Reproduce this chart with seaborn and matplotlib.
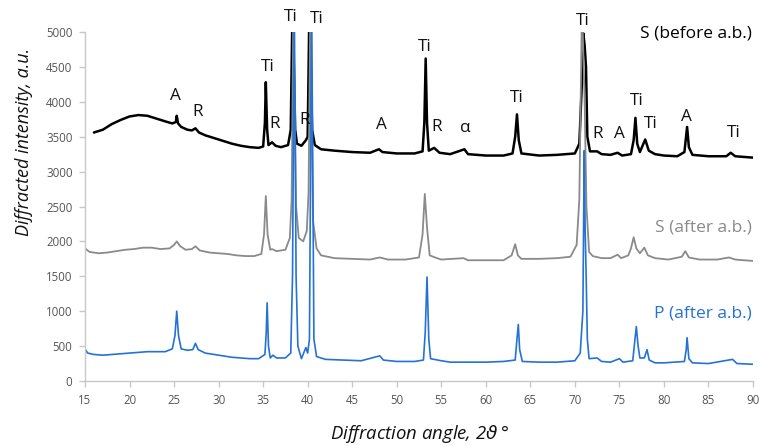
import matplotlib
matplotlib.use("Agg")
import matplotlib.pyplot as plt
import seaborn as sns
import pandas as pd

# --- XRD patterns (2-theta in degrees, intensity in a.u.) ---
before_angle = [16.0, 16.5, 17.0, 18.0, 19.0, 20.0, 21.0, 22.0, 23.0, 24.0, 24.8, 25.2, 25.3, 25.45,
                25.8, 26.5, 27.0, 27.4, 27.8, 28.5, 29.5, 30.5, 31.5, 32.5, 33.5, 34.5, 35.0, 35.2,
                35.3, 35.45, 35.6, 36.0, 36.4, 37.0, 37.8, 38.1, 38.3, 38.6, 38.8, 39.3, 39.8, 40.0,
                40.2, 40.5, 40.8, 41.5, 43.0, 45.0, 47.0, 48.0, 48.4, 50.0, 52.0, 52.9, 53.1, 53.25,
                53.4, 53.6, 54.2, 54.8, 56.0, 57.6, 58.0, 60.0, 62.0, 63.0, 63.3, 63.5, 63.7, 64.0,
                66.0, 68.0, 70.0, 70.5, 70.8, 70.95, 71.1, 71.25, 71.4, 71.7, 72.5, 73.0, 74.0, 74.8,
                75.3, 76.3, 76.6, 76.8, 77.0, 77.3, 77.9, 78.3, 79.0, 80.0, 81.5, 82.3, 82.6, 82.8,
                83.2, 85.0, 87.0, 87.5, 88.0, 89.0, 90.0]
before_int = [3560, 3580, 3600, 3680, 3740, 3790, 3810, 3800, 3760, 3720, 3690, 3710, 3800, 3690,
              3640, 3600, 3590, 3620, 3560, 3520, 3480, 3440, 3400, 3370, 3350, 3340, 3360, 3700,
              4280, 3600, 3380, 3420, 3370, 3350, 3380, 3600, 5400, 3600, 3400, 3370, 3450, 3500,
              5400, 3600, 3380, 3320, 3300, 3280, 3270, 3320, 3280, 3260, 3260, 3290, 3700, 4620,
              3700, 3300, 3340, 3270, 3250, 3320, 3250, 3230, 3230, 3260, 3500, 3820, 3450, 3260,
              3230, 3240, 3260, 3400, 4300, 4980, 4800, 4500, 3500, 3290, 3290, 3250, 3240, 3270,
              3230, 3250, 3450, 3770, 3400, 3280, 3460, 3300, 3250, 3230, 3220, 3280, 3640, 3350,
              3240, 3220, 3220, 3270, 3220, 3210, 3200]

after_s_angle = [15.0, 15.5, 16.5, 17.5, 18.5, 19.5, 20.5, 21.5, 22.5, 23.5, 24.5, 25.0, 25.3, 25.7,
                 26.3, 27.0, 27.4, 27.9, 29.0, 30.0, 31.0, 32.0, 33.0, 34.0, 34.8, 35.1, 35.3, 35.5,
                 35.8, 36.0, 36.5, 37.5, 38.0, 38.2, 38.4, 38.7, 39.0, 39.5, 39.9, 40.1, 40.3, 40.6,
                 41.0, 41.5, 43.0, 45.0, 47.0, 48.1, 49.0, 51.0, 52.5, 52.9, 53.15, 53.4, 53.7, 54.3,
                 55.0, 57.5, 58.0, 60.0, 62.0, 62.9, 63.3, 63.6, 64.0, 66.0, 68.0, 69.5, 70.2, 70.5,
                 70.8, 71.1, 71.3, 71.6, 72.0, 73.0, 74.0, 74.8, 75.2, 76.0, 76.3, 76.6, 76.9, 77.3,
                 77.8, 78.2, 79.0, 80.5, 82.0, 82.4, 82.8, 84.0, 86.0, 87.3, 88.0, 90.0]
after_s_int = [1900, 1850, 1830, 1840, 1860, 1880, 1890, 1910, 1910, 1890, 1900, 1950, 2000, 1930,
               1880, 1890, 1930, 1870, 1840, 1830, 1820, 1800, 1790, 1790, 1820, 2100, 2650, 2100,
               1880, 1890, 1860, 1880, 2050, 2600, 5400, 2500, 2050, 2000, 2150, 2700, 5400, 2300,
               1900, 1800, 1760, 1750, 1740, 1770, 1740, 1740, 1770, 2100, 2680, 2200, 1800, 1770,
               1740, 1760, 1730, 1730, 1730, 1800, 1960, 1800, 1750, 1750, 1760, 1780, 1950, 2600,
               5400, 4000, 2500, 1850, 1790, 1760, 1760, 1810, 1760, 1800, 1900, 2060, 1900, 1830,
               1910, 1800, 1760, 1740, 1780, 1860, 1770, 1740, 1740, 1770, 1740, 1720]

after_p_angle = [15.0, 15.3, 16.0, 17.0, 18.0, 19.0, 20.0, 21.0, 22.0, 23.0, 24.0, 24.8, 25.1, 25.3,
                 25.5, 25.8, 26.5, 27.1, 27.4, 27.7, 28.5, 29.5, 30.5, 31.5, 32.5, 33.5, 34.5, 35.2,
                 35.35, 35.45, 35.6, 35.8, 36.1, 36.5, 37.5, 38.1, 38.3, 38.5, 38.7, 38.9, 39.3, 39.8,
                 40.0, 40.2, 40.45, 40.7, 41.0, 42.0, 44.0, 46.0, 48.1, 48.5, 50.0, 52.0, 53.0, 53.2,
                 53.4, 53.6, 53.8, 55.0, 56.0, 58.0, 60.0, 62.0, 63.3, 63.5, 63.65, 63.8, 64.1, 66.0,
                 68.0, 70.0, 70.6, 70.9, 71.05, 71.15, 71.25, 71.4, 71.6, 72.5, 73.0, 74.0, 75.0, 75.4,
                 76.5, 76.75, 76.9, 77.1, 77.3, 77.8, 78.1, 78.35, 79.0, 80.0, 82.3, 82.5, 82.6, 82.8,
                 83.2, 85.0, 87.7, 88.2, 90.0]
after_p_int = [460, 400, 380, 370, 380, 390, 400, 410, 420, 420, 420, 460, 650, 1000,
               650, 460, 440, 450, 540, 450, 400, 380, 360, 340, 330, 320, 320, 380,
               700, 1120, 500, 330, 370, 330, 330, 400, 1500, 5400, 1500, 500, 320, 480,
               400, 600, 5400, 600, 350, 310, 300, 290, 360, 300, 280, 280, 300, 700,
               1490, 600, 320, 290, 270, 270, 270, 280, 300, 600, 810, 450, 280, 270,
               270, 290, 400, 1000, 3300, 2200, 1620, 600, 320, 330, 280, 270, 320, 270,
               290, 600, 780, 500, 330, 330, 450, 300, 260, 260, 280, 450, 620, 320,
               260, 250, 310, 250, 240]

# Phase markers: label, 2-theta, intensity position
phase_text = ["A", "R", "Ti", "Ti", "Ti", "R", "R", "A", "Ti", "R", "\u03b1", "Ti",
              "Ti", "R", "A", "Ti", "Ti", "A", "Ti"]
phase_angle = [25.2, 27.6, 35.5, 38.1, 41.0, 36.3, 39.7, 48.3, 53.1, 54.5, 57.7, 63.5,
               70.9, 72.5, 75.0, 76.9, 78.5, 82.5, 87.8]
phase_int = [4080, 3860, 4500, 5220, 5190, 3680, 3740, 3670, 4790, 3640, 3625, 4055,
             5160, 3540, 3540, 4010, 3680, 3780, 3550]

series_names = ["S (before a.b.)", "S (after a.b.)", "P (after a.b.)"]
series_colors = ["#000000", "#8a8a8a", "#2472d6"]
series_widths = [1.8, 1.3, 1.2]
name_int = [4985, 2195, 960]

x_ticks = list(range(15, 91, 5))
y_ticks = list(range(0, 5001, 500))

frames = [
    pd.DataFrame({"angle": before_angle, "intensity": before_int, "sample": series_names[0]}),
    pd.DataFrame({"angle": after_s_angle, "intensity": after_s_int, "sample": series_names[1]}),
    pd.DataFrame({"angle": after_p_angle, "intensity": after_p_int, "sample": series_names[2]}),
]

sns.set_theme(style="white")
plt.rcParams["font.family"] = ["Open Sans", "DejaVu Sans"]
plt.rcParams["mathtext.fontset"] = "dejavusans"

fig = plt.figure(figsize=(7.59, 4.46), dpi=100)
ax = fig.add_axes([85 / 759, 65 / 446, 668 / 759, 349 / 446])

for df, color, lw in zip(frames, series_colors, series_widths):
    sns.lineplot(data=df, x="angle", y="intensity", color=color, linewidth=lw,
                 estimator=None, sort=False, ax=ax, legend=False)

ax.set_xlim(15, 90)
ax.set_ylim(0, 5000)
ax.set_xticks(x_ticks)
ax.set_yticks(y_ticks)

for side in ["top", "right"]:
    ax.spines[side].set_visible(False)
for side in ["left", "bottom"]:
    ax.spines[side].set_color("#c8c8c8")
    ax.spines[side].set_linewidth(1.0)

ax.tick_params(axis="both", which="major", length=4, width=1.0, color="#c8c8c8",
               labelsize=8.3, labelcolor="#555555", direction="out", pad=5)
ax.tick_params(axis="x", bottom=True)
ax.tick_params(axis="y", left=True)

ax.set_xlabel("Diffraction angle, 2$\\vartheta\\,$\u00b0", fontsize=13.3, style="italic",
              color="#111111")
ax.xaxis.set_label_coords(0.5, -0.12)
ax.set_ylabel("Diffracted intensity, a.u.", fontsize=13.0, style="italic",
              color="#111111")
ax.yaxis.set_label_coords(-0.078, 0.685)

for txt, a, v in zip(phase_text, phase_angle, phase_int):
    ax.text(a, v, txt, ha="center", va="center", fontsize=12.3, color="#111111",
            clip_on=False)

for name, v, color in zip(series_names, name_int, series_colors):
    ax.text(89.9, v, name, ha="right", va="center", fontsize=12.5, color=color,
            clip_on=False)

fig.savefig("out.png", dpi=100)
